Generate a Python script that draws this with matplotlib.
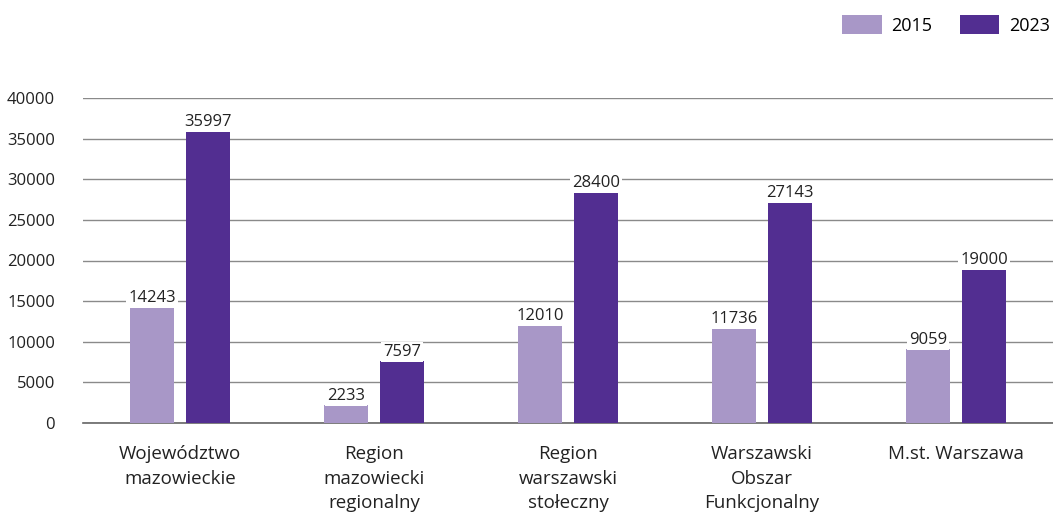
import matplotlib.pyplot as plt
import numpy as np
from matplotlib.patches import Patch

plt.rcParams['font.family'] = ['Open Sans', 'DejaVu Sans']

categories = ['Województwo\nmazowieckie', 'Region\nmazowiecki\nregionalny',
              'Region\nwarszawski\nstołeczny', 'Warszawski\nObszar\nFunkcjonalny',
              'M.st. Warszawa']
years = ['2015', '2023']
values_2015 = [14243, 2233, 12010, 11736, 9059]
values_2023 = [35997, 7597, 28400, 27143, 19000]
yticks = [0, 5000, 10000, 15000, 20000, 25000, 30000, 35000, 40000]

colors = ['#a897c7', '#522e91']

fig = plt.figure(figsize=(10.53, 5.13), dpi=100)
ax = fig.add_axes([83 / 1053, 1 - 423 / 513, 970 / 1053, 325 / 513])

x = np.arange(len(categories))
w = 0.227
off = 0.145
for vals, dx, c in [(values_2015, -off, colors[0]), (values_2023, off, colors[1])]:
    bars = ax.bar(x + dx, vals, width=w, color=c, zorder=3)
    for b, v in zip(bars, vals):
        ax.text(b.get_x() + b.get_width() / 2, v + 120, str(v),
                ha='center', va='bottom', fontsize=12, color='#222222', zorder=4,
                bbox=dict(facecolor='white', edgecolor='none', pad=1.5))

ax.set_xlim(-0.5, len(categories) - 0.5)
ax.set_ylim(0, 40000)
ax.set_yticks(yticks)
ax.set_yticklabels([str(t) for t in yticks], fontsize=12, color='#222222')
ax.set_xticks(x)
ax.set_xticklabels(categories, fontsize=13.5, color='#222222', va='top', linespacing=1.45)
ax.tick_params(axis='both', length=0)
ax.tick_params(axis='x', pad=16)
ax.tick_params(axis='y', pad=20)
ax.grid(axis='y', color='#8a8a8a', linewidth=1.0, zorder=0)
ax.set_axisbelow(True)
for s in ['top', 'right', 'left']:
    ax.spines[s].set_visible(False)
ax.spines['bottom'].set_color('#666666')
ax.spines['bottom'].set_linewidth(1.2)

handles = [Patch(facecolor=c, edgecolor='none') for c in colors]
fig.legend(handles, years, loc='upper right', bbox_to_anchor=(1.012, 1.0), ncol=2,
           frameon=False, fontsize=13, handlelength=2.2, handleheight=1.2,
           columnspacing=1.5, handletextpad=0.55, borderaxespad=0.45)

fig.savefig('out.png', dpi=100)
